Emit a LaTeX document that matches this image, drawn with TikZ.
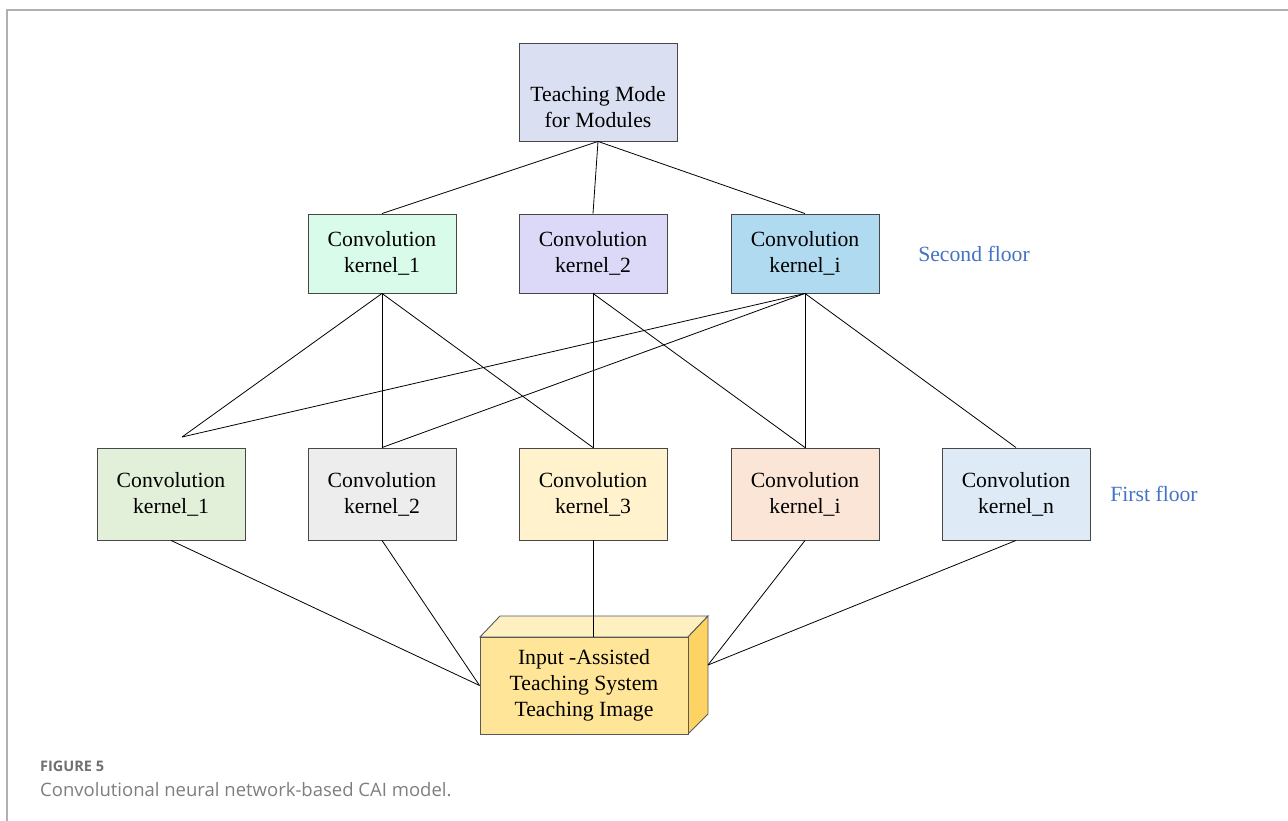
\documentclass[tikz,border=0pt]{standalone}
\usepackage{fontspec}
\setmainfont{Liberation Serif}
\newfontfamily\capfont{Open Sans}
\definecolor{floorblue}{HTML}{4472C4}
\definecolor{topfill}{HTML}{DAE0F2}
\definecolor{sa}{HTML}{D9FBE9}
\definecolor{sb}{HTML}{DCD8F8}
\definecolor{sc}{HTML}{B0DAF0}
\definecolor{fa}{HTML}{E2EFD9}
\definecolor{fb}{HTML}{EDEDED}
\definecolor{fc}{HTML}{FFF2CC}
\definecolor{fd}{HTML}{FBE5D6}
\definecolor{fe}{HTML}{DEEBF7}
\definecolor{cubefront}{HTML}{FFE597}
\definecolor{cubetop}{HTML}{FFF0C2}
\definecolor{cubeside}{HTML}{FDD463}
\definecolor{framegray}{HTML}{B0B0B0}
\definecolor{capgray}{HTML}{707070}
\begin{document}
\begin{tikzpicture}[x=1pt,y=-1pt,
  box/.style={draw=black!72, line width=0.9pt, minimum width=148pt, minimum height=79pt,
    inner sep=0pt, align=center, font=\fontsize{21.7}{26}\selectfont},
  lowbox/.style={box, minimum height=92pt},
  link/.style={draw=black, line width=0.8pt},
  floorlabel/.style={text=floorblue, font=\fontsize{21.7}{26}\selectfont, inner sep=0pt},
  cubeface/.style={draw=black!65, line width=0.9pt}]
\useasboundingbox (0,0) rectangle (1288,821);

% page frame
\draw[framegray, line width=1.4pt] (7,821) -- (7,10) -- (1288,10);

% top module box
\node[box, fill=topfill, minimum width=158pt, minimum height=98pt] (top) at (598,92) {};
\node[font=\fontsize{21.7}{26}\selectfont, align=center, inner sep=0pt] (toptext) at (598,107) {Teaching Mode\\for Modules};

% second floor
\node[box, fill=sa] (s1) at (382,253.5) {Convolution\\kernel\_1};
\node[box, fill=sb] (s2) at (593,253.5) {Convolution\\kernel\_2};
\node[box, fill=sc] (s3) at (805,253.5) {Convolution\\kernel\_i};
\node[floorlabel] (second) at (974,254) {Second floor};

% first floor
\node[lowbox, fill=fa] (f1) at (171,494) {Convolution\\kernel\_1};
\node[lowbox, fill=fb] (f2) at (382,494) {Convolution\\kernel\_2};
\node[lowbox, fill=fc] (f3) at (593,494) {Convolution\\kernel\_3};
\node[lowbox, fill=fd] (f4) at (805,494) {Convolution\\kernel\_i};
\node[lowbox, fill=fe] (f5) at (1016,494) {Convolution\\kernel\_n};
\node[floorlabel] (first) at (1154,494) {First floor};

% input block drawn as a cuboid
\draw[cubeface, fill=cubetop] (480,637) -- (500,616) -- (708,616) -- (688,637) -- cycle;
\draw[cubeface, fill=cubeside] (688,637) -- (708,616) -- (708,714) -- (688,734) -- cycle;
\node[box, draw=black!65, fill=cubefront, minimum width=208pt, minimum height=97pt] (inp) at (584,685.5)
  {Input -Assisted\\Teaching System\\Teaching Image};
\coordinate (inpR) at (708,665);
\coordinate (jn) at (182,437);

% connectors: top to second floor
\draw[link] (top.south) -- (s1.north);
\draw[link] (top.south) -- (s2.north);
\draw[link] (top.south) -- (s3.north);

% second floor to first floor
\draw[link] (s1.south) -- (jn);
\draw[link] (s1.south) -- (f2.north);
\draw[link] (s1.south) -- (f3.north);
\draw[link] (s2.south) -- (f3.north);
\draw[link] (s2.south) -- (f4.north);
\draw[link] (s3.south) -- (jn);
\draw[link] (s3.south) -- (f2.north);
\draw[link] (s3.south) -- (f4.north);
\draw[link] (s3.south) -- (f5.north);

% first floor to input block
\draw[link] (f1.south) -- (inp.west);
\draw[link] (f2.south) -- (inp.west);
\draw[link] (f3.south) -- (f3.south |- inp.north);
\draw[link] (f4.south) -- (inpR);
\draw[link] (f5.south) -- (inpR);

% caption
\node[anchor=base west, inner sep=0pt, text=capgray, font=\capfont\bfseries\fontsize{14.5}{16}\selectfont] (figno) at (40,771) {FIGURE 5};
\node[anchor=base west, inner sep=0pt, text=capgray!90, font=\capfont\fontsize{18.5}{21}\selectfont] (captext) at (40,796) {Convolutional neural network-based CAI model.};
\end{tikzpicture}
\end{document}
